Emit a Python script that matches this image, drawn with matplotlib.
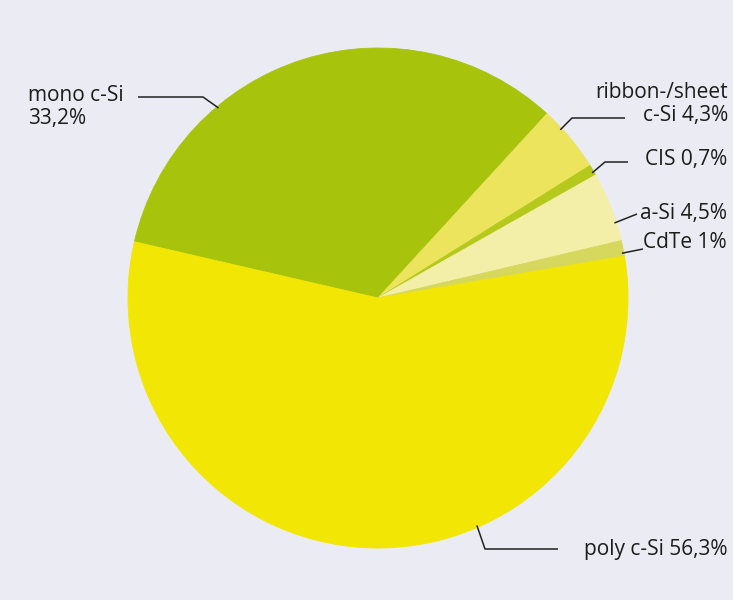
import numpy as np
import matplotlib.pyplot as plt

# market shares of PV cell technologies (%)
labels = ["mono c-Si\n33,2%", "ribbon-/sheet\nc-Si 4,3%", "CIS 0,7%",
          "a-Si 4,5%", "CdTe 1%", "poly c-Si 56,3%"]
shares = [33.2, 4.3, 0.7, 4.5, 1.0, 56.3]
colors = ["#a8c30c", "#ece45c", "#b5c81c", "#f4efa8", "#d6d85e", "#f2e604"]

bg = "#ebebf3"
W, H = 733, 600
cx, cy, r = 378, 298, 250

fig = plt.figure(figsize=(W / 100, H / 100), dpi=100, facecolor=bg)
ax = fig.add_axes([0, 0, 1, 1])
ax.set_facecolor(bg)

# y axis is flipped below, so counterclock in data == clockwise on screen
wedges, _ = ax.pie(shares, colors=colors, startangle=-167, counterclock=True,
                   center=(cx, cy), radius=r, frame=True)
for w in wedges:
    w.set_edgecolor(w.get_facecolor())
    w.set_linewidth(0.6)
ax.set_xlim(0, W)
ax.set_ylim(H, 0)   # pixel-like coords, y down
ax.set_aspect("equal")
ax.axis("off")

# leader lines: anchor angle on the rim (screen degrees), then elbow / end points
anchor_deg = [130, 42.7, 30.3, 17.6, 10.4, -66.5]
leg_pts = [[(203, 97), (138, 97)],
           [(572, 118), (625, 118)],
           [(605, 162), (628, 162)],
           [(637, 214)],
           [(643, 249)],
           [(485, 549), (558, 549)]]
text_pos = [(28, 107, "left"), (728, 104, "right"), (727, 160, "right"),
            (727, 213, "right"), (727, 243, "right"), (727, 549, "right")]

for lab, a, pts, (tx, ty, ha) in zip(labels, anchor_deg, leg_pts, text_pos):
    t = np.deg2rad(a)
    x0 = cx + (r - 2) * np.cos(t)
    y0 = cy - (r - 2) * np.sin(t)
    xs = [x0] + [p[0] for p in pts]
    ys = [y0] + [p[1] for p in pts]
    ax.plot(xs, ys, color="#222222", lw=1.1, solid_capstyle="butt")
    ax.text(tx, ty, lab, ha=ha, va="center", multialignment=ha,
            fontsize=15, family="Open Sans", color="#1c1c1c", linespacing=1.12)

fig.savefig("out.png", dpi=100, facecolor=bg)
